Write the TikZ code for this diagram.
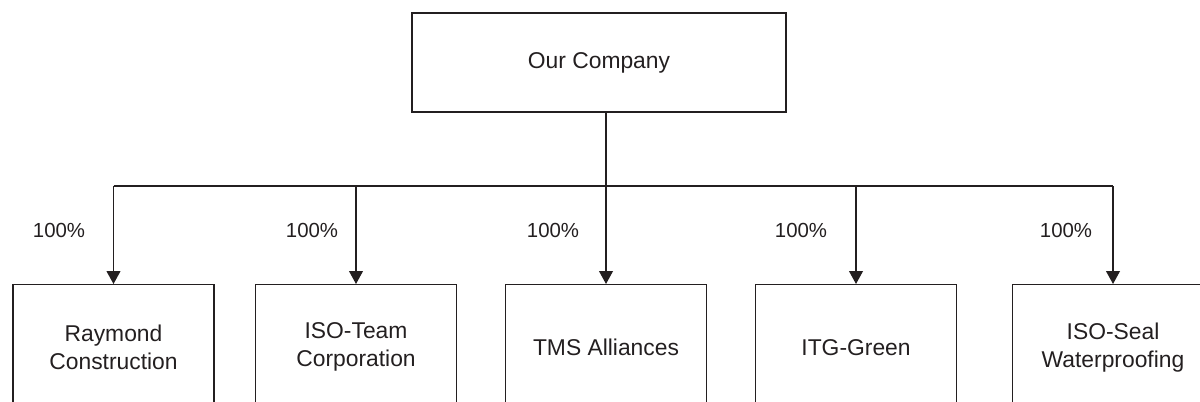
\documentclass[tikz,border=0pt]{standalone}
\usepackage{fontspec}
\setmainfont{Liberation Sans}
\usepackage{tikz}
\usetikzlibrary{arrows.meta,positioning}
\definecolor{cInk}{HTML}{231F20}

\begin{document}
\begin{tikzpicture}[font=\fontsize{13}{16}\selectfont, >={Triangle[length=7.4pt,width=7.9pt]},
    unit/.style={draw=cInk, line width=0.8pt, text=cInk, align=center,
                 minimum width=4.02cm, minimum height=2.5cm, inner sep=0pt},
    link/.style={draw=cInk, line width=0.8pt},
    pct/.style={font=\fontsize{11.6}{14}\selectfont, text=cInk}]
    \useasboundingbox (0,0) rectangle (24,-8.02);
    \clip (0,0) rectangle (24,-8.02);
    \node[unit, minimum width=7.48cm, minimum height=1.98cm] (top) at (11.98,-1.25) {Our Company};
    \node[unit, anchor=north] (b1) at (2.27,-5.68)  {Raymond\\Construction};
    \node[unit, anchor=north] (b2) at (7.12,-5.68)  {ISO-Team\\Corporation};
    \node[unit, anchor=north] (b3) at (12.12,-5.68) {TMS Alliances};
    \node[unit, anchor=north] (b4) at (17.12,-5.68) {ITG-Green};
    \node[unit, anchor=north] (b5) at (22.26,-5.68) {ISO-Seal\\Waterproofing};
    % bus line between the parent and the subsidiaries
    \coordinate (bus) at (12.12,-3.72);
    \draw[link] (top.south -| b3.north) -- (bus);
    \draw[link] (bus -| b1.north) -- (bus -| b5.north);
    \foreach \b/\lx in {b1/1.18, b2/6.24, b3/11.06, b4/16.02, b5/21.32} {
      \draw[link, ->] (bus -| \b.north) -- (\b.north);
      \node[pct] (p\b) at (\lx,-4.6) {100\%};
    }
  \end{tikzpicture}
\end{document}
